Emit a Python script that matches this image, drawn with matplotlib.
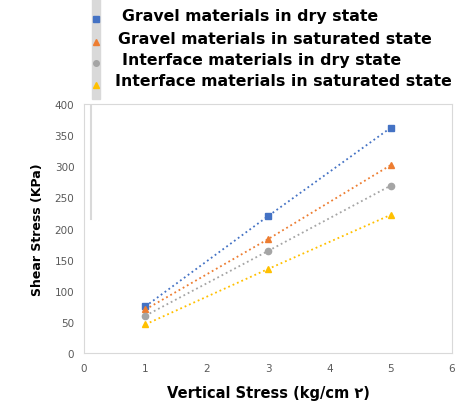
import matplotlib.pyplot as plt
from matplotlib.lines import Line2D
from matplotlib.patches import Rectangle

# vertical stress values and measured shear stress for each material / state
vertical_stress = [1, 3, 5]
gravel_dry = [75, 220, 362]
gravel_sat = [70, 183, 302]
interface_dry = [60, 164, 269]
interface_sat = [46, 135, 222]

labels = ["Gravel materials in dry state",
          "Gravel materials in saturated state",
          "Interface materials in dry state",
          "Interface materials in saturated state"]
colors = ["#4472C4", "#ED7D31", "#A5A5A5", "#FFC000"]
markers = ["s", "^", "o", "^"]

fig = plt.figure(figsize=(4.57, 4.06), dpi=100)
ax = fig.add_axes([0.184, 0.128, 0.805, 0.613])

series = [gravel_dry, gravel_sat, interface_dry, interface_sat]
for vals, c, m, lab in zip(series, colors, markers, labels):
    ax.plot(vertical_stress, vals, linestyle=":", linewidth=1.3, color=c,
            marker=m, markersize=4.5, label=lab)

ax.set_xlim(0, 6)
ax.set_ylim(0, 400)
ax.set_xticks(range(0, 7))
ax.set_yticks(range(0, 401, 50))
ax.tick_params(length=0, labelsize=7.5, colors="#595959", pad=7)
for s in ax.spines.values():
    s.set_color("#d9d9d9")

ax.set_xlabel("Vertical Stress (kg/cm \u0662)", fontsize=10.5, fontweight="heavy",
              labelpad=9)
ax.set_ylabel("Shear Stress (KPa)", fontsize=9, fontweight="heavy", labelpad=8)

# leftover bits of the legend box seen in the original
fig.patches.append(Rectangle((92 / 457, 1 - 100 / 406), 8 / 457, 100 / 406,
                             transform=fig.transFigure, color="#d9d9d9", zorder=0))
fig.add_artist(Line2D([90.5 / 457, 90.5 / 457], [1 - 107 / 406, 1 - 220 / 406],
                      transform=fig.transFigure, color="#d9d9d9", linewidth=1.5))

# legend entries
ys = [16, 39, 60, 82]
xs = [122, 118, 122, 115]
for lab, c, m, y, x in zip(labels, colors, markers, ys, xs):
    fig.add_artist(Line2D([96 / 457], [1 - (y + 4) / 406], transform=fig.transFigure,
                          marker=m, color=c, markersize=4, linestyle="none"))
    fig.text(x / 457, 1 - y / 406, lab, fontsize=11.3, fontweight="heavy",
             va="center", ha="left")

fig.savefig("out.png", dpi=100)
